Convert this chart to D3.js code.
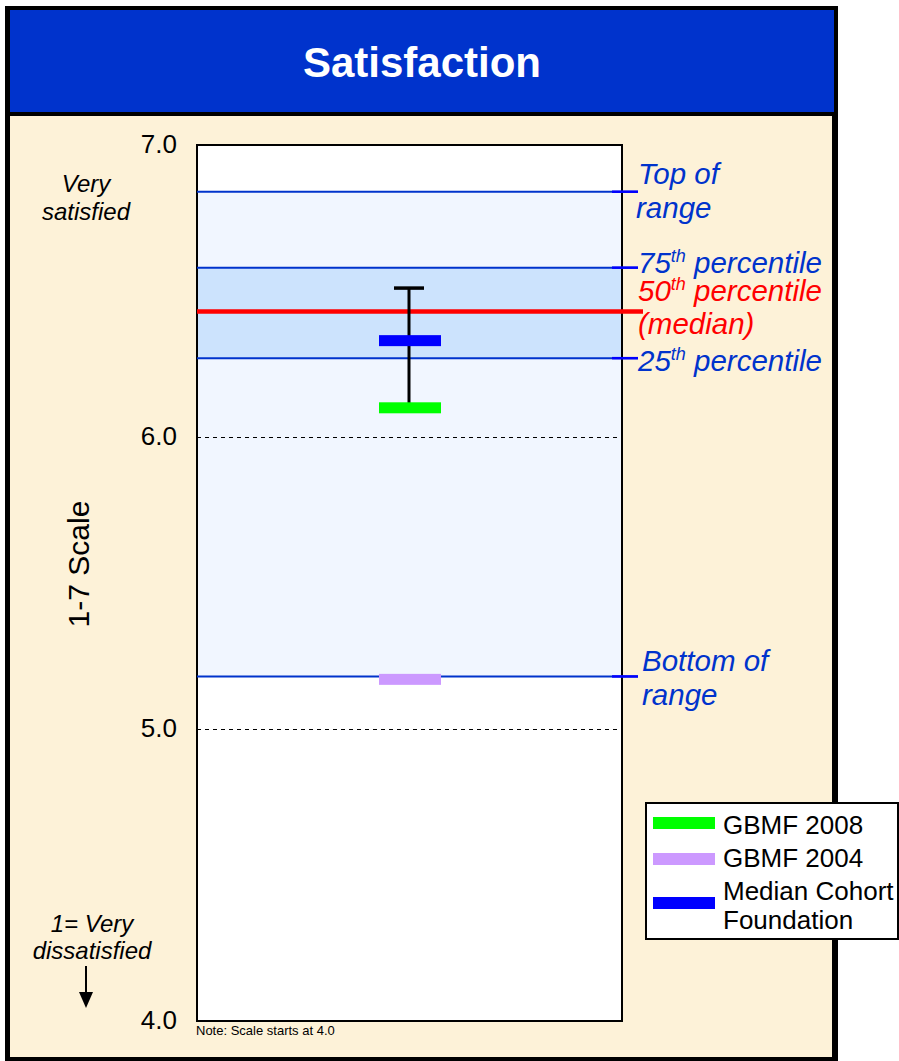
<!DOCTYPE html>
<html>
<head>
<meta charset="utf-8">
<script src="https://cdn.jsdelivr.net/npm/d3@7"></script>
<style>
  html, body { margin: 0; padding: 0; background: #ffffff; }
  svg { display: block; font-family: Arial, "Liberation Sans", Helvetica, sans-serif; }
</style>
</head>
<body>
<svg id="chart" width="899" height="1061"></svg>
<script>
// Scale domain and ticks
const yDomain = [4.0, 7.0];
const yTicks = [4.0, 5.0, 6.0, 7.0];
const gridTicks = [5.0, 6.0];

// Cohort distribution
const rangeTop = 6.84;
const p75 = 6.58;
const p50 = 6.43;
const p25 = 6.27;
const rangeBottom = 5.18;

// Series markers
const seriesNames = ["GBMF 2008", "GBMF 2004", "Median Cohort Foundation"];
const seriesValues = [6.10, 5.17, 6.33];
const seriesColors = ["#00ff00", "#cc99ff", "#0000ff"];

// Change from the previous survey (error-bar style span)
const changeSpan = [6.10, 6.51];

const svg = d3.select("#chart");

// Frame, title band, panel
svg.append("rect").attr("x", 5).attr("y", 6).attr("width", 833).attr("height", 1060).attr("fill", "#000");
svg.append("rect").attr("x", 10).attr("y", 10).attr("width", 824).attr("height", 102).attr("fill", "#0033cc");
svg.append("rect").attr("x", 10).attr("y", 116).attr("width", 822).attr("height", 941).attr("fill", "#fdf2d8");
svg.append("text").attr("x", 422).attr("y", 77).attr("text-anchor", "middle")
  .attr("fill", "#fff").attr("font-weight", "bold").attr("font-size", 42).text("Satisfaction");

const x0 = 197, x1 = 622;
const y = d3.scaleLinear().domain(yDomain).range([1021, 145]);

// Plot area
svg.append("rect").attr("x", x0).attr("y", y(7)).attr("width", x1 - x0).attr("height", y(4) - y(7))
  .attr("fill", "#fff");

// Range and interquartile bands
svg.append("rect").attr("x", x0).attr("y", y(rangeTop)).attr("width", x1 - x0)
  .attr("height", y(rangeBottom) - y(rangeTop)).attr("fill", "#f1f6ff");
svg.append("rect").attr("x", x0).attr("y", y(p75)).attr("width", x1 - x0)
  .attr("height", y(p25) - y(p75)).attr("fill", "#cce3fd");

// Dashed grid lines
svg.selectAll(".grid").data(gridTicks).join("line")
  .attr("x1", x0).attr("x2", x1).attr("y1", d => Math.round(y(d)) + 0.5).attr("y2", d => Math.round(y(d)) + 0.5)
  .attr("stroke", "#000").attr("stroke-width", 1).attr("stroke-dasharray", "4,4");

// Plot border
svg.append("rect").attr("x", x0).attr("y", y(7)).attr("width", x1 - x0).attr("height", y(4) - y(7))
  .attr("fill", "none").attr("stroke", "#000").attr("stroke-width", 2);

// Blue range / quartile lines with tick marks on the right
[rangeTop, p75, p25, rangeBottom].forEach(v => {
  svg.append("line").attr("x1", x0).attr("x2", 638).attr("y1", y(v)).attr("y2", y(v))
    .attr("stroke", "#0033cc").attr("stroke-width", 2);
  svg.append("line").attr("x1", 612).attr("x2", 638).attr("y1", y(v)).attr("y2", y(v))
    .attr("stroke", "#0000ff").attr("stroke-width", 2.5);
});
// Median line
svg.append("line").attr("x1", x0).attr("x2", 643).attr("y1", y(p50)).attr("y2", y(p50))
  .attr("stroke", "#ff0000").attr("stroke-width", 4.5);

// Change span
const cx = 409;
svg.append("line").attr("x1", cx).attr("x2", cx).attr("y1", y(changeSpan[1])).attr("y2", y(changeSpan[0]))
  .attr("stroke", "#000").attr("stroke-width", 3);
svg.append("line").attr("x1", cx - 15).attr("x2", cx + 15).attr("y1", y(changeSpan[1])).attr("y2", y(changeSpan[1]))
  .attr("stroke", "#000").attr("stroke-width", 3.5);

// Series markers
svg.selectAll(".marker").data(seriesValues).join("rect")
  .attr("x", cx - 30).attr("width", 62)
  .attr("y", d => y(d) - 5.5).attr("height", 11)
  .attr("fill", (d, i) => seriesColors[i]);

// Axis tick labels
svg.selectAll(".tick").data(yTicks).join("text")
  .attr("x", 177).attr("y", d => y(d) + 8).attr("text-anchor", "end")
  .attr("font-size", 26).attr("fill", "#000").text(d => d.toFixed(1));

// Axis title
svg.append("text").attr("transform", "translate(89,564) rotate(-90)")
  .attr("text-anchor", "middle").attr("font-size", 30).attr("fill", "#000").text("1-7 Scale");

// Scale end captions
const cap = (xx, yy, t) => svg.append("text").attr("x", xx).attr("y", yy).attr("text-anchor", "middle")
  .attr("font-size", 24).attr("font-style", "italic").attr("fill", "#000").text(t);
cap(86, 192, "Very");
cap(86, 220, "satisfied");
cap(92, 932, "1= Very");
cap(92, 959, "dissatisfied");
svg.append("line").attr("x1", 86).attr("x2", 86).attr("y1", 966).attr("y2", 995)
  .attr("stroke", "#000").attr("stroke-width", 2);
svg.append("path").attr("d", "M79,992 L93,992 L86,1008 Z").attr("fill", "#000");

// Footnote
svg.append("text").attr("x", 196).attr("y", 1035).attr("font-size", 13).attr("fill", "#000")
  .text("Note: Scale starts at 4.0");

// Right-side labels
const lab = (xx, yy, color) => svg.append("text").attr("x", xx).attr("y", yy)
  .attr("font-size", 29.5).attr("font-style", "italic").attr("fill", color);
lab(638, 184, "#0033cc").text("Top of");
lab(636, 218, "#0033cc").text("range");
const sup = (node, num) => {
  node.append("tspan").text(num);
  node.append("tspan").attr("font-size", 18).attr("dy", -11).text("th");
  node.append("tspan").attr("dy", 11).text(" percentile");
};
sup(lab(638, 273, "#0033cc"), "75");
sup(lab(638, 301, "#ff0000"), "50");
lab(638, 334, "#ff0000").text("(median)");
sup(lab(638, 371, "#0033cc"), "25");
lab(642, 671, "#0033cc").text("Bottom of");
lab(642, 705, "#0033cc").text("range");

// Legend
const lg = svg.append("g");
lg.append("rect").attr("x", 646).attr("y", 803).attr("width", 252).attr("height", 136)
  .attr("fill", "#fff").attr("stroke", "#000").attr("stroke-width", 2);
const legendRows = [
  { i: 0, sy: 823, lines: [seriesNames[0]], ty: [834] },
  { i: 1, sy: 859, lines: [seriesNames[1]], ty: [867] },
  { i: 2, sy: 903, lines: ["Median Cohort", "Foundation"], ty: [900, 929] }
];
legendRows.forEach(r => {
  lg.append("rect").attr("x", 653).attr("y", r.sy - 6).attr("width", 62).attr("height", 12)
    .attr("fill", seriesColors[r.i]);
  r.lines.forEach((t, k) => lg.append("text").attr("x", 723).attr("y", r.ty[k])
    .attr("font-size", 26).attr("fill", "#000").text(t));
});
</script>
</body>
</html>
